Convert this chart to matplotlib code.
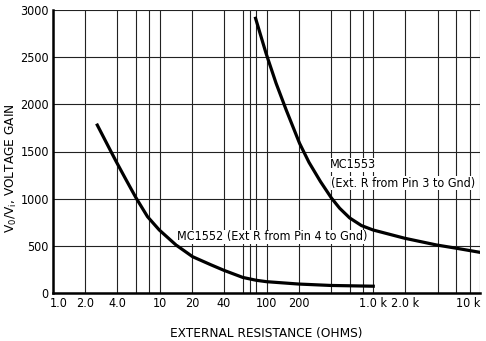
import matplotlib
matplotlib.use("Agg")
import matplotlib.pyplot as plt
import matplotlib.transforms as mtransforms
from matplotlib.ticker import FixedLocator, NullFormatter

plt.rcParams['font.family'] = ['DejaVu Sans']
plt.rcParams['font.stretch'] = 'condensed'

# --- data ---
mc1552_r = [2.6, 3.36, 3.88, 4.81, 5.97, 7.68, 9.9, 14.2, 20.3, 30, 40, 60, 80, 100, 200, 400, 1000]
mc1552_gain = [1780, 1536, 1400, 1205, 1012, 809, 668, 509, 385, 300, 240, 165, 135, 120, 95, 80, 72]

mc1553_r = [79, 99, 123, 153, 204, 250, 320, 405, 484, 601, 775, 996, 1976, 3920, 6040, 10000]
mc1553_gain = [2912, 2541, 2223, 1940, 1587, 1385, 1182, 1008, 899, 796, 715, 668, 580, 509, 474, 431]

x_ticks = [1, 2, 4, 10, 20, 40, 100, 200, 1000, 2000, 10000]
x_tick_labels = ["1.0", "2.0", "4.0", "10", "20", "40", "100", "200", "1.0 k", "2.0 k", "10 k"]
x_grid = [1, 2, 4, 6, 8, 10, 20, 40, 60, 70, 80, 100, 200, 400, 600, 800,
          1000, 2000, 4000, 6000, 8000, 10000]
y_ticks = [0, 500, 1000, 1500, 2000, 2500, 3000]

fig = plt.figure(figsize=(4.86, 3.41), dpi=100)
ax = fig.add_axes([53 / 486, 1 - 293 / 341, 427 / 486, 283 / 341])

ax.set_xscale("log")
ax.set_xlim(1, 10000)
ax.set_ylim(0, 3000)

# grid lines at the chart-paper positions
for gx in x_grid:
    ax.axvline(gx, color="#222222", lw=0.8, zorder=1)
for gy in y_ticks:
    ax.axhline(gy, color="#222222", lw=0.8, zorder=1)

ax.plot(mc1552_r, mc1552_gain, color="black", lw=2.3, zorder=3)
ax.plot(mc1553_r, mc1553_gain, color="black", lw=2.3, zorder=3)

box = dict(facecolor="white", edgecolor="none", pad=0.5)
ax.text(390, 1357, "MC1553", fontsize=9, va="center", ha="left", bbox=box, zorder=4)
ax.text(405, 1166, "(Ext. R from Pin 3 to Gnd)", fontsize=9, va="center", ha="left",
        bbox=box, zorder=4)
ax.text(14.6, 594, "MC1552 (Ext R from Pin 4 to Gnd)", fontsize=9, va="center",
        ha="left", bbox=box, zorder=4)

ax.xaxis.set_major_locator(FixedLocator(x_ticks))
ax.xaxis.set_minor_locator(FixedLocator([]))
ax.xaxis.set_minor_formatter(NullFormatter())
ax.set_xticklabels(x_tick_labels)
ax.set_yticks(y_ticks)
ax.set_yticklabels([str(v) for v in y_ticks])
ax.tick_params(axis="both", length=0, labelsize=9)
ax.tick_params(axis="x", pad=3)
ax.tick_params(axis="y", pad=3)

# first and last x labels sit inside the frame, as on the original sheet
first = ax.get_xticklabels()[0]
first.set_horizontalalignment("left")
first.set_transform(first.get_transform() +
                    mtransforms.ScaledTranslation(-3 / 100, 0, fig.dpi_scale_trans))
ax.get_xticklabels()[-1].set_horizontalalignment("right")

for side in ["top", "right"]:
    ax.spines[side].set_visible(False)
for side in ["left", "bottom"]:
    ax.spines[side].set_linewidth(1.8)

ax.set_ylabel(r"V$_\mathregular{0}$/V$_\mathregular{i}$, VOLTAGE GAIN", fontsize=9.7)
ax.yaxis.set_label_coords(-0.08, 0.44)
ax.set_xlabel("EXTERNAL RESISTANCE (OHMS)", fontsize=9.7, labelpad=12)

fig.savefig("out.png", dpi=100)
